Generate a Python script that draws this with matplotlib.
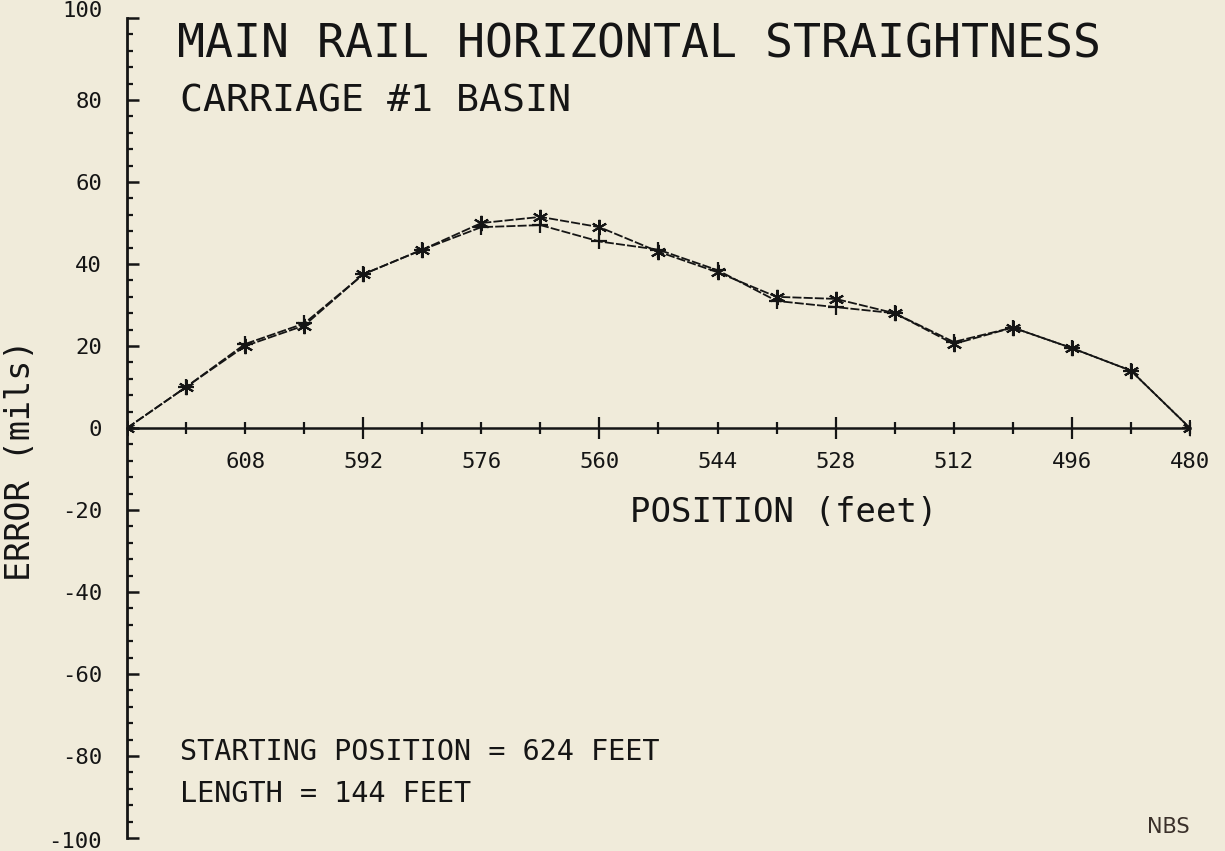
import matplotlib
matplotlib.use("Agg")
import matplotlib.pyplot as plt
import matplotlib.transforms as mtransforms
from matplotlib.ticker import FixedLocator, FixedFormatter

plt.rcParams['axes.unicode_minus'] = False
plt.rcParams['font.family'] = ['DejaVu Sans Mono']

# carriage position along the rail (feet) and measured error (mils), two runs
position = [624, 616, 608, 600, 592, 584, 576, 568, 560, 552,
            544, 536, 528, 520, 512, 504, 496, 488, 480]
run_star = [0, 10, 20, 25, 37.5, 43.5, 50, 51.5, 49, 43,
            38, 32, 31.5, 28, 20.5, 24.5, 19.5, 14, 0]
run_plus = [0, 10, 20.5, 25.5, 37.5, 43.5, 49, 49.5, 45.5, 43.5,
            38.5, 31, 29.5, 28, 21, 24.5, 19.5, 14, 0]

x_major = [592, 560, 528, 496]
x_minor = [616, 608, 600, 584, 576, 568, 552, 544, 536, 520, 512, 504, 488, 480]
x_labelled = [608, 592, 576, 560, 544, 528, 512, 496, 480]
y_major = list(range(-100, 101, 20))
y_minor = list(range(-100, 101, 4))

bg = '#f0ebda'
ink = '#151515'

fig = plt.figure(figsize=(12.25, 8.51), dpi=100, facecolor=bg)
ax = fig.add_axes([0.1037, 0.01528, 0.8677, 0.9635])
ax.set_facecolor(bg)

ax.plot(position, run_plus, color=ink, lw=1.3, ls=(0, (5, 1.2)),
        marker='+', ms=12, mew=1.6)
ax.plot(position, run_star, color=ink, lw=1.3, ls=(0, (5, 1.2)),
        marker=(6, 2, 0), ms=11, mew=1.5)

ax.set_xlim(624, 480)
ax.set_ylim(-100, 100)

for s in ['top', 'right']:
    ax.spines[s].set_visible(False)
ax.spines['bottom'].set_position(('data', 0))
ax.spines['bottom'].set_linewidth(1.8)
ax.spines['left'].set_linewidth(2.0)
ax.spines['bottom'].set_color(ink)
ax.spines['left'].set_color(ink)

# x axis: long ticks every 32 ft, short every 8 ft, labels every 16 ft
ax.xaxis.set_major_locator(FixedLocator(x_major))
ax.xaxis.set_minor_locator(FixedLocator(x_minor))
ax.xaxis.set_major_formatter(FixedFormatter([str(v) for v in x_major]))
ax.xaxis.set_minor_formatter(FixedFormatter(
    [str(v) if v in x_labelled else '' for v in x_minor]))
ax.tick_params(axis='x', which='major', direction='inout', length=16,
               width=1.6, pad=9.4, labelsize=16, colors=ink)
ax.tick_params(axis='x', which='minor', direction='inout', length=8.6,
               width=1.6, pad=13.1, labelsize=16, colors=ink)

# y axis
ax.yaxis.set_major_locator(FixedLocator(y_major))
ax.yaxis.set_minor_locator(FixedLocator([v for v in y_minor if v % 20]))
ax.yaxis.set_major_formatter(FixedFormatter([str(v) for v in y_major]))
ax.tick_params(axis='y', which='major', direction='in', length=8.5,
               width=1.8, pad=18, labelsize=16, colors=ink)
ax.tick_params(axis='y', which='minor', direction='in', length=4,
               width=1.6, colors=ink)

# end labels sit a little outside the axis ends
fig.canvas.draw()
ylabels = ax.yaxis.get_majorticklabels()
ylabels[0].set_transform(ylabels[0].get_transform() +
                         mtransforms.ScaledTranslation(0, -2 / 100, fig.dpi_scale_trans))
ylabels[-1].set_transform(ylabels[-1].get_transform() +
                          mtransforms.ScaledTranslation(0, 9 / 100, fig.dpi_scale_trans))

W, H = 1225, 851
fig.text(177 / W, 1 - 57 / H, 'MAIN RAIL HORIZONTAL STRAIGHTNESS',
         fontsize=33.5, color=ink, va='baseline', ha='left')
fig.text(180 / W, 1 - 111 / H, 'CARRIAGE #1 BASIN',
         fontsize=27.5, color=ink, va='baseline', ha='left')
fig.text(630 / W, 1 - 522 / H, 'POSITION (feet)',
         fontsize=24.5, color=ink, va='baseline', ha='left')
fig.text(20 / W, 1 - 460 / H, 'ERROR (mils)', rotation=90,
         fontsize=24, color=ink, va='center', ha='center')
fig.text(180 / W, 1 - 760 / H, 'STARTING POSITION = 624 FEET',
         fontsize=20.5, color=ink, va='baseline', ha='left')
fig.text(180 / W, 1 - 802 / H, 'LENGTH = 144 FEET',
         fontsize=20.5, color=ink, va='baseline', ha='left')
fig.text(1190 / W, 1 - 833 / H, 'NBS', family='DejaVu Sans',
         fontsize=15, color='#3a302a', va='baseline', ha='right')

fig.savefig('out.png', dpi=100, facecolor=bg)
